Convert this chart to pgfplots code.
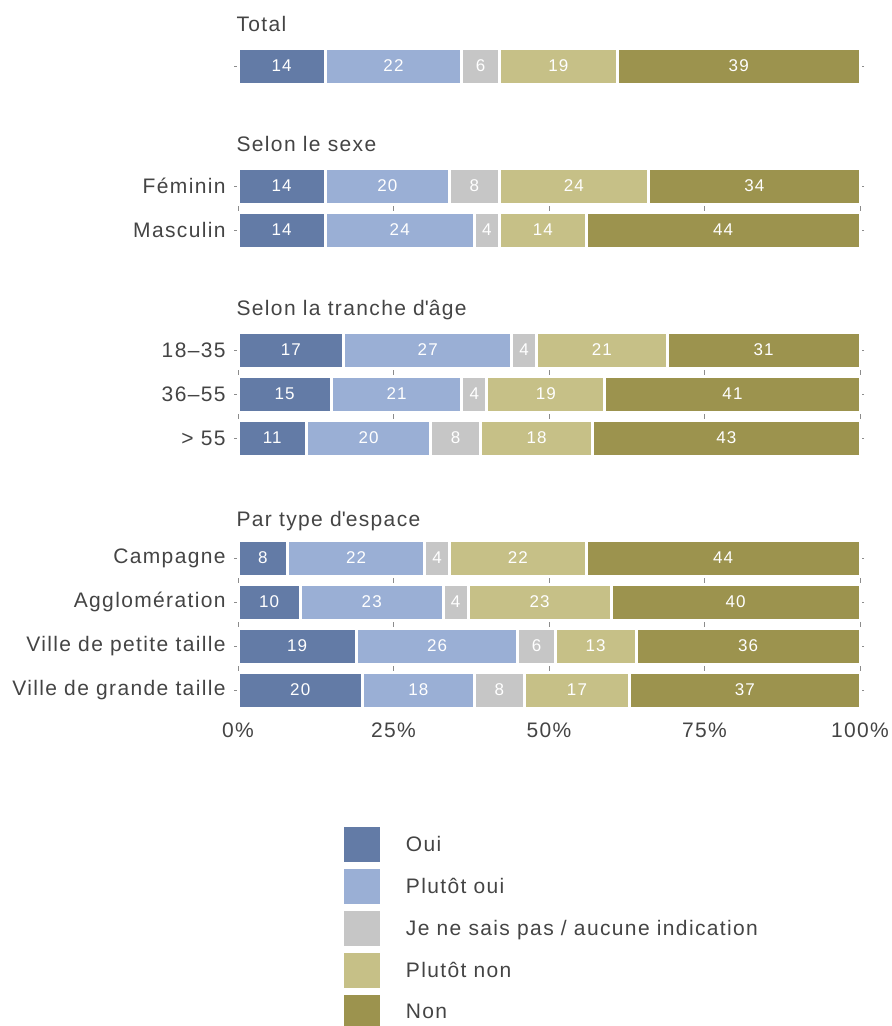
\documentclass[border=0pt]{standalone}
\usepackage{fontspec}
\setmainfont{Liberation Sans}[LetterSpace=6.5]
\usepackage{pgfplots}
\pgfplotsset{compat=1.18}
\usepackage{pgfplotstable}
\definecolor{cOui}{HTML}{637BA6}
\definecolor{cPoui}{HTML}{9AAFD5}
\definecolor{cNsp}{HTML}{C6C6C6}
\definecolor{cPnon}{HTML}{C6C087}
\definecolor{cNon}{HTML}{9C934E}
\definecolor{txt}{HTML}{444444}

\pgfplotstableread{
y oui poui nsp pnon non
66 14 22 6 19 39
186 14 20 8 24 34
230 14 24 4 14 44
350 17 27 4 21 31
394 15 21 4 19 41
438 11 20 8 18 43
558 8 22 4 22 44
602 10 23 4 23 40
646 19 26 6 13 36
690 20 18 8 17 37
}\data

\newcommand\lbl{\fontsize{10.5}{12}\selectfont}
\newcommand\nbr{\fontsize{8.5}{10}\selectfont}

\begin{document}
\begin{tikzpicture}
\useasboundingbox (0pt,0pt) rectangle (446pt,-513pt);
\begin{axis}[
  at={(119pt,-20pt)}, anchor=north west,
  scale only axis, width=311pt, height=336pt,
  xmin=0, xmax=100, ymin=40, ymax=712, y dir=reverse,
  xbar stacked, bar width=36,
  clip=false,
  axis line style={draw=none},
  xtick={0,25,50,75,100},
  xticklabels={0\%,25\%,50\%,75\%,100\%},
  xtick style={draw=none},
  xticklabel style={font=\lbl, text=txt},
  ytick={66,186,230,350,394,438,558,602,646,690},
  yticklabels={{},Féminin,Masculin,18–35,36–55,> 55,Campagne,Agglomération,Ville de petite taille,Ville de grande taille},
  yticklabel style={font=\lbl, text=txt, inner sep=0pt, xshift=-4pt},
  ytick style={draw=black!45, line width=0.4pt},
  tick align=outside, major tick length=2pt,
  nodes near coords={\pgfmathprintnumber[assume math mode=true]{\pgfplotspointmeta}},
  nodes near coords align={center},
  every node near coord/.style={anchor=center, font=\nbr, text=white},
  legend style={at={(axis description cs:0.1704,-0.1711)}, anchor=north west, draw=none, fill=none, inner sep=0pt,
     row sep=3.5pt, font=\lbl, text=txt, nodes={inner sep=0pt}},
  legend cell align=left,
  legend image code/.code={\fill[#1,draw=none] (0pt,-8.75pt) rectangle (18pt,8.75pt); \path (30pt,0pt);},
]
\addplot[fill=cOui, draw=white, line width=1.5pt] table[x=oui,y=y]{\data};
\addplot[fill=cPoui, draw=white, line width=1.5pt] table[x=poui,y=y]{\data};
\addplot[fill=cNsp, draw=white, line width=1.5pt] table[x=nsp,y=y]{\data};
\addplot[fill=cPnon, draw=white, line width=1.5pt] table[x=pnon,y=y]{\data};
\addplot[fill=cNon, draw=white, line width=1.5pt] table[x=non,y=y]{\data};
\legend{Oui, Plutôt oui, Je ne sais pas / aucune indication, Plutôt non, Non}
\node[anchor=base west, inner sep=0pt, font=\lbl, text=txt] at (axis cs:-0.3,31) {Total};
\node[anchor=base west, inner sep=0pt, font=\lbl, text=txt] at (axis cs:-0.3,151) {Selon le sexe};
\node[anchor=base west, inner sep=0pt, font=\lbl, text=txt] at (axis cs:-0.3,315) {Selon la tranche d\textquotesingle âge};
\node[anchor=base west, inner sep=0pt, font=\lbl, text=txt] at (axis cs:-0.3,526) {Par type d\textquotesingle espace};
\pgfplotsinvokeforeach{205.5,369.5,413.5,577.5,621.5,665.5}{
  \draw[black!45, line width=0.4pt] (axis cs:0,#1) -- (axis cs:0,#1+5);
  \draw[black!45, line width=0.4pt] (axis cs:25,#1) -- (axis cs:25,#1+5);
  \draw[black!45, line width=0.4pt] (axis cs:50,#1) -- (axis cs:50,#1+5);
  \draw[black!45, line width=0.4pt] (axis cs:75,#1) -- (axis cs:75,#1+5);
  \draw[black!45, line width=0.4pt] (axis cs:100,#1) -- (axis cs:100,#1+5);
}
\end{axis}
\end{tikzpicture}
\end{document}
